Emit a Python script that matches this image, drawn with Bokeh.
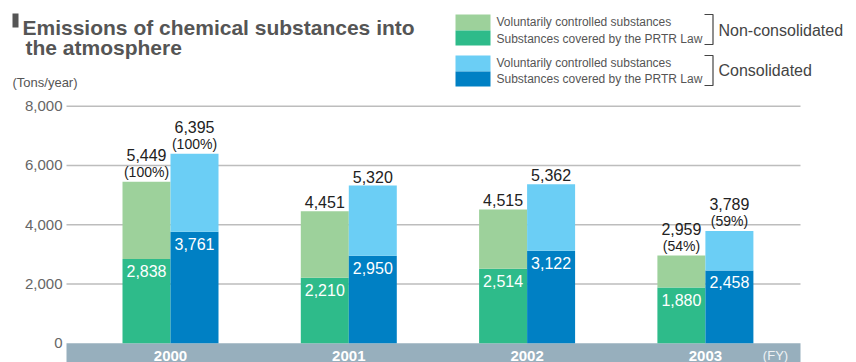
from bokeh.plotting import figure
from bokeh.models import Range1d, FixedTicker, NumeralTickFormatter, Label, LinearAxis
from bokeh.core.properties import value
from bokeh.embed import file_html
from bokeh.resources import INLINE

# ---------------- data ----------------
years = ["2000", "2001", "2002", "2003"]
non_total = [5449, 4451, 4515, 2959]
non_prtr = [2838, 2210, 2514, 1880]
con_total = [6395, 5320, 5362, 3789]
con_prtr = [3761, 2950, 3122, 2458]
non_pct = ["(100%)", "", "", "(54%)"]
con_pct = ["(100%)", "", "", "(59%)"]
y_ticks = [0, 2000, 4000, 6000, 8000]
legend_items = ["Voluntarily controlled substances", "Substances covered by the PRTR Law"]
legend_groups = ["Non-consolidated", "Consolidated"]

# ---------------- geometry helpers (pixel -> data) ----------------
W, H = 856, 362
PL = 66            # plot area left edge
X0, DX = 170.0, 178.3
Y0, DY = 342.7, 0.029625


def px2x(px):
    return (px - X0) / DX


def py2y(py):
    return (Y0 - py) / DY


FONT = "Liberation Sans"
C_NON_V, C_NON_P = "#9dd19b", "#2ebb8a"
C_CON_V, C_CON_P = "#6bcef5", "#0080c4"
BAND = "#97afbd"

p = figure(width=W, height=H, output_backend="svg", toolbar_location=None,
           x_range=Range1d(px2x(0), px2x(W)), y_range=Range1d(py2y(H), py2y(0)),
           x_axis_location=None, y_axis_location=None, min_border_left=0, min_border_right=0,
           min_border_top=0, min_border_bottom=0, outline_line_color=None)
p.xgrid.visible = False
p.ygrid.visible = False

ax = LinearAxis(fixed_location=px2x(PL))
ax.ticker = FixedTicker(ticks=y_ticks)
ax.formatter = NumeralTickFormatter(format="0,0")
ax.axis_line_color = None
ax.major_tick_line_color = None
ax.minor_tick_line_color = None
ax.major_tick_out = 0
ax.major_tick_in = 0
ax.major_label_standoff = 4
ax.major_label_text_font = FONT
ax.major_label_text_font_size = "15px"
ax.major_label_text_color = "#666666"
p.add_layout(ax, "left")

# gridlines
grid_y = [t for t in y_ticks if t > 0]
p.segment(x0=[px2x(PL)] * len(grid_y), x1=[px2x(800)] * len(grid_y), y0=grid_y, y1=grid_y,
          line_color="#bdbdbd", line_width=1.5)

# bottom band
p.quad(left=[px2x(PL)], right=[px2x(800)], bottom=[py2y(H)], top=[0], fill_color=BAND, line_color=None)

idx = list(range(len(years)))
bw = 48 / DX
off = bw / 2
xn = [i - off for i in idx]
xc = [i + off for i in idx]

p.vbar(x=xn, width=bw, bottom=0, top=non_prtr, fill_color=C_NON_P, line_color=None)
p.vbar(x=xn, width=bw, bottom=non_prtr, top=non_total, fill_color=C_NON_V, line_color=None)
p.vbar(x=xc, width=bw, bottom=0, top=con_prtr, fill_color=C_CON_P, line_color=None)
p.vbar(x=xc, width=bw, bottom=con_prtr, top=con_total, fill_color=C_CON_V, line_color=None)


def fmt(v):
    return f"{v:,}"


for xs, tot, prt, pct in [(xn, non_total, non_prtr, non_pct), (xc, con_total, con_prtr, con_pct)]:
    p.text(x=xs, y=prt, text=[fmt(v) for v in prt], text_align="center", text_baseline="middle",
           y_offset=12, text_color="white", text_font=value(FONT), text_font_size="16px")
    p.text(x=xs, y=tot, text=[fmt(v) for v in tot], text_align="center", text_baseline="middle",
           y_offset=[-27 if s else -9 for s in pct], text_color="#222222",
           text_font=value(FONT), text_font_size="16px")
    p.text(x=xs, y=tot, text=pct, text_align="center", text_baseline="middle",
           y_offset=-10, text_color="#222222", text_font=value(FONT), text_font_size="14px")

# year labels in band
p.text(x=idx, y=[py2y(355)] * len(idx), text=years, text_align="center", text_baseline="middle",
       text_color="white", text_font=value(FONT), text_font_size="15px", text_font_style="bold")
p.text(x=[px2x(775)], y=[py2y(355)], text=["(FY)"], text_align="center", text_baseline="middle",
       text_color="#eef2f5", text_font=value(FONT), text_font_size="13px")

# legend
sw_l, sw_r = px2x(455), px2x(490)
bands = [(14, 30, C_NON_V), (30, 45, C_NON_P), (55, 71, C_CON_V), (71, 86, C_CON_P)]
p.quad(left=[sw_l] * 4, right=[sw_r] * 4, top=[py2y(b[0]) for b in bands],
       bottom=[py2y(b[1]) for b in bands], fill_color=[b[2] for b in bands], line_color=None)
leg_y = [21.5, 38, 62, 78]
p.text(x=[px2x(496)] * 4, y=[py2y(v) for v in leg_y], text=legend_items * 2, text_align="left",
       text_baseline="middle", text_color="#555555", text_font=value(FONT), text_font_size="12px")
p.multi_line(xs=[[px2x(704), px2x(712.5), px2x(712.5), px2x(704)]] * 2,
             ys=[[py2y(14), py2y(14), py2y(44), py2y(44)], [py2y(55), py2y(55), py2y(85), py2y(85)]],
             line_color="#444444", line_width=1.2)
p.text(x=[px2x(718)] * 2, y=[py2y(29.5), py2y(70)], text=legend_groups, text_align="left",
       text_baseline="middle", text_color="#444444", text_font=value(FONT), text_font_size="16px")

# title
p.quad(left=[px2x(12)], right=[px2x(18)], top=[py2y(13)], bottom=[py2y(27)],
       fill_color="#555555", line_color=None)
p.add_layout(Label(x=22, y=H - 27, x_units="screen", y_units="screen",
                   text="Emissions of chemical substances into", text_font=FONT,
                   text_font_size="21px", text_font_style="bold", text_color="#555555",
                   text_baseline="alphabetic"))
p.add_layout(Label(x=25, y=H - 47, x_units="screen", y_units="screen",
                   text="the atmosphere", text_font=FONT,
                   text_font_size="21px", text_font_style="bold", text_color="#555555",
                   text_baseline="alphabetic"))
p.add_layout(Label(x=12, y=H - 82, x_units="screen", y_units="screen",
                   text="(Tons/year)", text_font=FONT, text_font_size="13px",
                   text_color="#555555", text_baseline="middle"))

open("out.html", "w").write(file_html(p, INLINE))
